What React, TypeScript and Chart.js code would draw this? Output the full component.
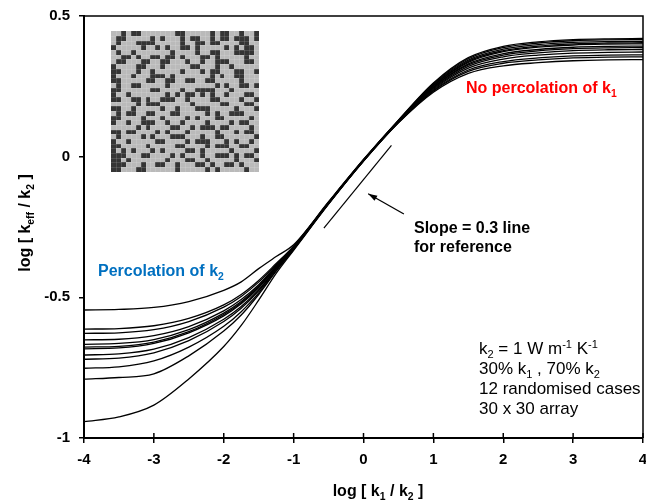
import { useEffect, useRef } from 'react';
import { Chart, registerables } from 'chart.js';
Chart.register(...registerables);

// ---------- data ----------
const xValues = [-4, -3.5, -3, -2.5, -2, -1.75, -1.5, -1.25, -1, -0.5, 0, 0.5, 1, 1.5, 2, 2.5, 3, 3.5, 4];

const case01 = [-0.545, -0.543, -0.536, -0.515, -0.475, -0.445, -0.398, -0.355, -0.313, -0.160, -0.010, 0.130, 0.262, 0.352, 0.392, 0.408, 0.416, 0.419, 0.420];
const case02 = [-0.613, -0.611, -0.601, -0.575, -0.527, -0.490, -0.440, -0.380, -0.318, -0.162, -0.011, 0.129, 0.259, 0.348, 0.388, 0.404, 0.412, 0.415, 0.416];
const case03 = [-0.628, -0.626, -0.615, -0.586, -0.535, -0.497, -0.446, -0.384, -0.320, -0.163, -0.012, 0.128, 0.256, 0.343, 0.382, 0.398, 0.406, 0.409, 0.410];
const case04 = [-0.651, -0.649, -0.636, -0.604, -0.548, -0.508, -0.455, -0.388, -0.321, -0.164, -0.012, 0.127, 0.253, 0.339, 0.377, 0.393, 0.401, 0.404, 0.405];
const case05 = [-0.667, -0.664, -0.650, -0.615, -0.556, -0.515, -0.460, -0.391, -0.322, -0.164, -0.013, 0.127, 0.251, 0.335, 0.373, 0.389, 0.397, 0.400, 0.401];
const case06 = [-0.677, -0.674, -0.659, -0.622, -0.561, -0.519, -0.463, -0.393, -0.323, -0.165, -0.013, 0.126, 0.248, 0.330, 0.366, 0.381, 0.389, 0.392, 0.393];
const case07 = [-0.683, -0.680, -0.664, -0.626, -0.566, -0.523, -0.466, -0.395, -0.324, -0.165, -0.014, 0.125, 0.246, 0.326, 0.361, 0.376, 0.384, 0.387, 0.388];
const case08 = [-0.705, -0.701, -0.684, -0.643, -0.578, -0.533, -0.473, -0.398, -0.325, -0.166, -0.014, 0.124, 0.243, 0.321, 0.355, 0.369, 0.377, 0.380, 0.381];
const case09 = [-0.720, -0.716, -0.697, -0.654, -0.586, -0.539, -0.477, -0.400, -0.326, -0.166, -0.015, 0.123, 0.240, 0.315, 0.347, 0.361, 0.368, 0.371, 0.372];
const case10 = [-0.752, -0.747, -0.726, -0.677, -0.603, -0.551, -0.484, -0.404, -0.328, -0.167, -0.015, 0.122, 0.236, 0.308, 0.338, 0.351, 0.358, 0.361, 0.362];
const case11 = [-0.791, -0.785, -0.772, -0.708, -0.620, -0.563, -0.490, -0.407, -0.330, -0.168, -0.016, 0.121, 0.233, 0.303, 0.332, 0.344, 0.351, 0.354, 0.355];
const case12 = [-0.942, -0.925, -0.883, -0.790, -0.675, -0.600, -0.510, -0.415, -0.333, -0.169, -0.016, 0.120, 0.229, 0.296, 0.323, 0.334, 0.341, 0.344, 0.345];

const cases = [case01, case02, case03, case04, case05, case06, case07, case08, case09, case10, case11, case12];

// slope = 0.3 reference line
const refLineX = [-0.567, 0.40];
const refLineY = [-0.254, 0.040];

const xTicks = [-4, -3, -2, -1, 0, 1, 2, 3, 4];
const yTicks = [-1, -0.5, 0, 0.5];

// 30 x 30 array inset ('#' = k1 cell)
const gridRows = [
  '..#.##.......##.....#.##..#..#',
  '.##.....#.#...#.##..#.##.###.#',
  '.#...####.....#..##.##....##..',
  '#.....#..#.#..##.#.....#.#.##.',
  '.#..#.......#....#..##...####.',
  '..##.#..##.##.#...##.#.....#..',
  '.##...##..##...#..#..###...##.',
  '#....##...#.....##...#..#.....',
  '##...#..#.....#...#.##...##..#',
  '#...#...###.#.......#.#..##...',
  '##.....##..##..##..##.....#...',
  '.#..##.....#.........#.#..##.#',
  '##......##....#..####...#.....',
  '#..#.......#.#.##.#.#..#...##.',
  '##..##.#..###..#....##....#..#',
  '.....#.###......#.....##...##.',
  '##..#.....#..#...###.....#...#',
  '.#.##..##...##.....#.#..###...',
  '##....#...#....#.#...##.....#.',
  '#..#..###..#..#....#....#.##..',
  '.....#.#....##..#.###.##....#.',
  '##.##....#.#...#.....#...#.##.',
  '.#....#.#...###...#..##......#',
  '#..#.....##....#.###...#.#..#.',
  '##.....#.....##....#.###..##..',
  '#.#.#...#.#....##.#.....#....#',
  '###...##....#.#...#..###.#.##.',
  '##.#.......#...##..#.....#...#',
  '###...#..##..#...##.#..##.#...',
  '##...##......#.....#.#.....#..',
];

const FONT = '"Liberation Sans", Arial, sans-serif';

type Part = [string, 'n' | 'sub' | 'sup'];

function richWidth(ctx: CanvasRenderingContext2D, parts: Part[], size: number, weight: string) {
  let w = 0;
  for (const [t, k] of parts) {
    const s = k === 'n' ? size : size * 0.65;
    ctx.font = `${weight} ${s}px ${FONT}`;
    w += ctx.measureText(t).width;
  }
  return w;
}

function drawRich(ctx: CanvasRenderingContext2D, parts: Part[], x: number, y: number, size: number, weight: string, color: string) {
  let cx = x;
  ctx.fillStyle = color;
  ctx.textBaseline = 'alphabetic';
  ctx.textAlign = 'left';
  for (const [t, k] of parts) {
    const s = k === 'n' ? size : size * 0.65;
    ctx.font = `${weight} ${s}px ${FONT}`;
    const dy = k === 'sub' ? size * 0.22 : k === 'sup' ? -size * 0.38 : 0;
    ctx.fillText(t, cx, y + dy);
    cx += ctx.measureText(t).width;
  }
}

const decorPlugin = {
  id: 'decor',
  afterDatasetsDraw(chart: any) {
    const ctx: CanvasRenderingContext2D = chart.ctx;
    const xs = chart.scales.x;
    const ys = chart.scales.y;
    const area = chart.chartArea;
    ctx.save();

    // inset array image
    const gx0 = xs.getPixelForValue(-3.614);
    const gx1 = xs.getPixelForValue(-1.496);
    const gy0 = ys.getPixelForValue(0.445);
    const gy1 = ys.getPixelForValue(-0.053);
    const n = gridRows.length;
    const colEdge = (c: number) => Math.round(gx0 + (c * (gx1 - gx0)) / n);
    const rowEdge = (r: number) => Math.round(gy0 + (r * (gy1 - gy0)) / n);
    ctx.fillStyle = '#bababa';
    ctx.fillRect(colEdge(0), rowEdge(0), colEdge(n) - colEdge(0), rowEdge(n) - rowEdge(0));
    ctx.fillStyle = '#353535';
    gridRows.forEach((row, r) => {
      for (let c = 0; c < row.length; c++) {
        if (row[c] === '#') {
          ctx.fillRect(colEdge(c), rowEdge(r), colEdge(c + 1) - colEdge(c), rowEdge(r + 1) - rowEdge(r));
        }
      }
    });
    ctx.fillStyle = 'rgba(255,255,255,0.13)';
    for (let i = 1; i < n; i++) {
      ctx.fillRect(colEdge(i), rowEdge(0), 1, rowEdge(n) - rowEdge(0));
      ctx.fillRect(colEdge(0), rowEdge(i), colEdge(n) - colEdge(0), 1);
    }

    // frame top and right
    ctx.strokeStyle = '#000';
    ctx.lineWidth = 1.5;
    ctx.beginPath();
    ctx.moveTo(area.left, area.top);
    ctx.lineTo(area.right, area.top);
    ctx.lineTo(area.right, area.bottom);
    ctx.stroke();

    // inner half of x ticks
    ctx.lineWidth = 1.5;
    for (const t of xTicks) {
      const px = xs.getPixelForValue(t);
      ctx.beginPath();
      ctx.moveTo(px, area.bottom);
      ctx.lineTo(px, area.bottom - 5);
      ctx.stroke();
    }

    // arrow
    const ax0 = xs.getPixelForValue(0.578), ay0 = ys.getPixelForValue(-0.204);
    const ax1 = xs.getPixelForValue(0.067), ay1 = ys.getPixelForValue(-0.132);
    ctx.lineWidth = 1.3;
    ctx.beginPath();
    ctx.moveTo(ax0, ay0);
    ctx.lineTo(ax1, ay1);
    ctx.stroke();
    const ang = Math.atan2(ay1 - ay0, ax1 - ax0);
    const hl = 9, hw = 3;
    ctx.fillStyle = '#000';
    ctx.beginPath();
    ctx.moveTo(ax1, ay1);
    ctx.lineTo(ax1 - hl * Math.cos(ang) + hw * Math.sin(ang), ay1 - hl * Math.sin(ang) - hw * Math.cos(ang));
    ctx.lineTo(ax1 - hl * Math.cos(ang) - hw * Math.sin(ang), ay1 - hl * Math.sin(ang) + hw * Math.cos(ang));
    ctx.closePath();
    ctx.fill();

    // annotations
    drawRich(ctx, [['Slope = 0.3 line', 'n']], 414, 233, 16, 'bold', '#000');
    drawRich(ctx, [['for reference', 'n']], 414, 252, 16, 'bold', '#000');
    drawRich(ctx, [['No percolation of k', 'n'], ['1', 'sub']], 466, 93, 16, 'bold', '#ff0000');
    drawRich(ctx, [['Percolation of k', 'n'], ['2', 'sub']], 98, 276, 16, 'bold', '#0070c0');

    drawRich(ctx, [['k', 'n'], ['2', 'sub'], [' = 1 W m', 'n'], ['-1', 'sup'], [' K', 'n'], ['-1', 'sup']], 479, 354, 17, 'normal', '#000');
    drawRich(ctx, [['30% k', 'n'], ['1', 'sub'], [' , 70% k', 'n'], ['2', 'sub']], 479, 374, 17, 'normal', '#000');
    drawRich(ctx, [['12 randomised cases', 'n']], 479, 394, 17, 'normal', '#000');
    drawRich(ctx, [['30 x 30 array', 'n']], 479, 414, 17, 'normal', '#000');

    // axis titles
    const xt: Part[] = [['log [ k', 'n'], ['1', 'sub'], [' / k', 'n'], ['2', 'sub'], [' ]', 'n']];
    const xw = richWidth(ctx, xt, 16, 'bold');
    drawRich(ctx, xt, 378 - xw / 2, 496, 16, 'bold', '#000');

    const yt: Part[] = [['log [ k', 'n'], ['eff', 'sub'], [' / k', 'n'], ['2', 'sub'], [' ]', 'n']];
    const yw = richWidth(ctx, yt, 16, 'bold');
    ctx.save();
    ctx.translate(30, 223);
    ctx.rotate(-Math.PI / 2);
    drawRich(ctx, yt, -yw / 2, 0, 16, 'bold', '#000');
    ctx.restore();

    ctx.restore();
  },
};

export default function App() {
  const ref = useRef<HTMLCanvasElement>(null);
  useEffect(() => {
    document.body.style.margin = '0';
    const datasets: any[] = cases.map((c, i) => ({
      label: `case ${i + 1}`,
      data: xValues.map((x, j) => ({ x, y: c[j] })),
      borderColor: '#000',
      borderWidth: 1.3,
      pointRadius: 0,
      fill: false,
      cubicInterpolationMode: 'monotone',
    }));
    datasets.push({
      label: 'slope 0.3',
      data: refLineX.map((x, j) => ({ x, y: refLineY[j] })),
      borderColor: '#000',
      borderWidth: 1.2,
      pointRadius: 0,
      fill: false,
    });

    const chart = new Chart(ref.current!, {
      type: 'line',
      data: { datasets },
      options: {
        responsive: false,
        devicePixelRatio: 1,
        animation: false,
        layout: { padding: { left: 0, top: 16, right: 3, bottom: 0 } },
        plugins: { legend: { display: false }, tooltip: { enabled: false } },
        scales: {
          x: {
            type: 'linear',
            min: -4,
            max: 4,
            afterBuildTicks: (s: any) => { s.ticks = xTicks.map((v) => ({ value: v })); },
            afterFit: (s: any) => { s.height = 66; s.paddingLeft = 0; s.paddingRight = 0; },
            ticks: {
              color: '#000',
              padding: 8,
              maxRotation: 0,
              font: { family: FONT, size: 15, weight: 'bold' },
              callback: (v: any) => String(v),
            },
            grid: { drawOnChartArea: false, drawTicks: true, tickLength: 5, color: '#000', lineWidth: 1.5 },
            border: { display: true, color: '#000', width: 2 },
          },
          y: {
            type: 'linear',
            min: -1,
            max: 0.5,
            afterBuildTicks: (s: any) => { s.ticks = yTicks.map((v) => ({ value: v })); },
            afterFit: (s: any) => { s.width = 84; s.paddingTop = 0; s.paddingBottom = 0; },
            ticks: {
              color: '#000',
              padding: 9,
              font: { family: FONT, size: 15, weight: 'bold' },
              callback: (v: any) => String(v),
            },
            grid: { drawOnChartArea: false, drawTicks: true, tickLength: 5, color: '#000', lineWidth: 1.5 },
            border: { display: true, color: '#000', width: 2 },
          },
        },
      },
      plugins: [decorPlugin],
    } as any);
    return () => chart.destroy();
  }, []);
  return <canvas ref={ref} width={646} height={504} style={{ display: 'block', width: 646, height: 504 }} />;
}
